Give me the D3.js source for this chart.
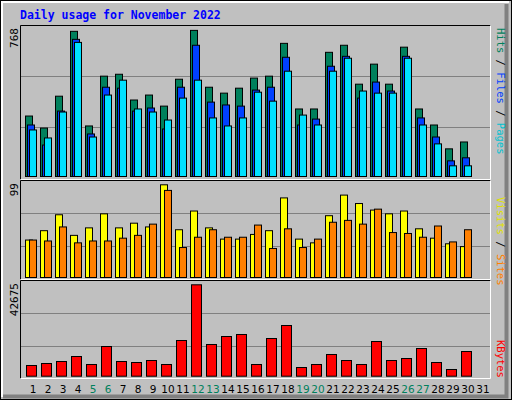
<!DOCTYPE html>
<html><head><meta charset="utf-8">
<script src="https://cdn.jsdelivr.net/npm/d3@7"></script>
<style>body{margin:0;background:#fff}svg{display:block}</style>
</head><body>
<script>
const days = d3.range(1, 32);
const weekendDays = [5,6,12,13,19,20,26,27];
const hits  = [317,254,421,761,265,526,536,401,427,369,510,766,468,437,463,516,526,698,354,354,651,688,484,589,484,678,354,270,145,181,0];
const files = [270,165,343,719,223,468,463,343,359,249,468,688,390,375,369,453,468,625,270,301,578,630,411,495,448,630,307,207,82,98,0];
const pages = [244,202,338,703,207,427,505,354,338,296,411,505,307,265,307,442,395,552,322,270,552,620,448,437,437,620,270,171,56,56,0];
const sites  = [40,50,67,45,53,68,53,58,54,99,51,71,53,41,41,46,50,85,41,37,66,88,79,72,68,71,52,42,36,33,0];
const visits = [40,39,54,37,39,39,42,45,57,93,32,43,51,43,43,56,31,52,32,41,59,61,57,73,48,47,43,55,38,51,0];
const kbytes = [4996,5930,6863,9198,5463,13867,6863,6397,7330,5463,16668,42675,14801,18536,19470,5463,17602,23672,4062,5463,10132,7330,5463,16201,7330,8264,12933,6397,3128,11532,0];
const maxHits = 768, maxSites = 99, maxKB = 42675;

const W=512,H=400;
const svg=d3.select("body").append("svg").attr("width",W).attr("height",H);
svg.append("rect").attr("x",0).attr("y",0).attr("width",W).attr("height",H).attr("fill","#c0c0c0");
svg.append("rect").attr("x",0.5).attr("y",0.5).attr("width",W-1).attr("height",H-1).attr("fill","none").attr("stroke","#000");
svg.append("path").attr("d","M2,397V2H509").attr("fill","none").attr("stroke","#fff").attr("stroke-width",2);
svg.append("path").attr("d","M3,396.5H506.5V4").attr("fill","none").attr("stroke","#808080").attr("stroke-width",4);

svg.append("text").attr("x",20).attr("y",19).text("Daily usage for November 2022")
  .attr("font-family","DejaVu Sans Mono").attr("font-weight","bold").attr("font-size",11.5).attr("fill","#0000ff");

const x = d3.scaleLinear().domain([1,32]).range([25, 25+15*31]);
const mono="DejaVu Sans Mono";

function panel(y0,y1){
  svg.append("rect").attr("x",20.5).attr("y",y0+0.5).attr("width",470).attr("height",y1-y0).attr("fill","#c0c0c0")
    .attr("stroke","none");
  svg.append("path").attr("d",`M20.5,${y1+0.5}V${y0+0.5}H490.5`).attr("stroke","#000").attr("fill","none");
  svg.append("path").attr("d",`M20.5,${y1+0.5}H490.5V${y0+0.5}`).attr("stroke","#fff").attr("fill","none");
}
function grid(y, top, bottom){
  [1/3,2/3].forEach(f=>{
    const yy=Math.round(bottom-(bottom-top)*f*1.0)+0.5;
    svg.append("line").attr("x1",21).attr("x2",490).attr("y1",yy).attr("y2",yy).attr("stroke","#808080");
  });
}
function bars(data,scale,color,off,w){
  svg.append("g").selectAll("rect").data(days.filter((d,i)=>data[i]>0)).join("rect")
    .attr("x",d=>x(d)+off+0.5).attr("y",d=>scale(data[d-1])+0.5)
    .attr("width",w).attr("height",d=>scale(0)-scale(data[d-1]))
    .attr("fill",color).attr("stroke","#000");
}
function leftLabel(txt,y){
  svg.append("text").attr("transform",`translate(18,${y}) rotate(-90)`).attr("text-anchor","end")
    .attr("font-family",mono).attr("font-size",11).attr("fill","#000").text(txt);
}
function rightLabel(parts,yTop){
  const t=svg.append("text").attr("transform",`translate(497,${yTop}) rotate(90)`)
    .attr("font-family",mono).attr("font-size",10.5);
  parts.reverse().forEach(p=>t.append("tspan").attr("fill",p[1]).text(p[0]));
}

// Top panel
panel(25,179);
const yTop=d3.scaleLinear().domain([0,maxHits]).range([176,29.5]);
[76,127].forEach(yy=>svg.append("line").attr("x1",21).attr("x2",490).attr("y1",yy+0.5).attr("y2",yy+0.5).attr("stroke","#808080"));
bars(hits,yTop,"#00805c",0,7);
bars(files,yTop,"#0040ff",2,7);
bars(pages,yTop,"#00e0ff",4,7);
leftLabel(String(maxHits),28);
rightLabel([["Pages","#00c0d0"],[" / ","#000"],["Files","#0040ff"],[" / ","#000"],["Hits","#00805c"]],28);

// Middle panel
panel(180,279);
const yMid=d3.scaleLinear().domain([0,maxSites]).range([277,184.3]);
[213,246].forEach(yy=>svg.append("line").attr("x1",21).attr("x2",490).attr("y1",yy+0.5).attr("y2",yy+0.5).attr("stroke","#808080"));
bars(sites,yMid,"#ffff00",0,7);
bars(visits,yMid,"#ff8000",4,7);
leftLabel(String(maxSites),183);
rightLabel([["Sites","#ff8000"],[" / ","#000"],["Visits","#e0e000"]],197);

// Bottom panel
panel(280,378);
const yBot=d3.scaleLinear().domain([0,maxKB]).range([375.7,284.3]);
[313,346].forEach(yy=>svg.append("line").attr("x1",21).attr("x2",490).attr("y1",yy+0.5).attr("y2",yy+0.5).attr("stroke","#808080"));
bars(kbytes,yBot,"#ff0000",1,10);
leftLabel(String(maxKB),283);
rightLabel([["KBytes","#ff0000"]],340);

// X labels
svg.append("g").selectAll("text").data(days).join("text")
  .attr("x",d=>x(d)+8).attr("y",393).attr("text-anchor","middle")
  .attr("font-family","DejaVu Sans").attr("font-size",10.5)
  .attr("fill",d=>weekendDays.includes(d)?"#00805c":"#000").text(d=>d);
</script>
</body></html>
